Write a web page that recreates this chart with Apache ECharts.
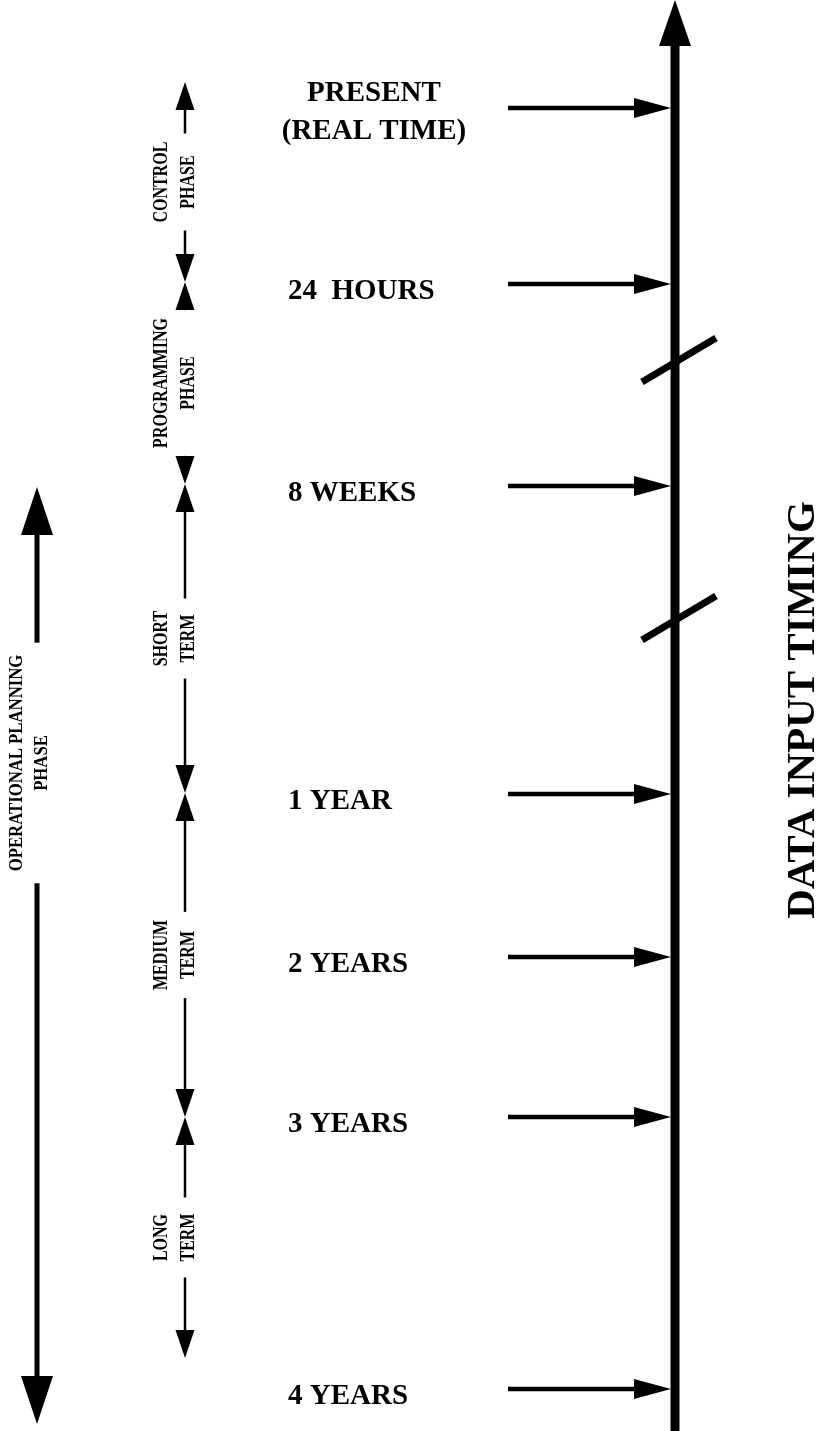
<!DOCTYPE html>
<html><head><meta charset="utf-8">
<script src="https://cdn.jsdelivr.net/npm/echarts@6/dist/echarts.min.js"></script>
<style>html,body{margin:0;padding:0;background:#fff}#c{width:819px;height:1431px}</style>
</head><body><div id="c"></div>
<script>
// ---- data (vertical timeline positions, in diagram units) ----
const milestoneLabels = ['PRESENT\n(REAL TIME)', '24  HOURS', '8 WEEKS', '1 YEAR', '2 YEARS', '3 YEARS', '4 YEARS'];
const milestonePos = [108, 284, 486, 794, 957, 1117, 1389];
const phaseNames = ['CONTROL\nPHASE', 'PROGRAMMING\nPHASE', 'SHORT\nTERM', 'MEDIUM\nTERM', 'LONG\nTERM'];
const phaseStart = [82, 282, 484, 793, 1117];
const phaseEnd = [282, 484, 793, 1117, 1358];
const breakPos = [360, 618];
const overallNames = ['OPERATIONAL PLANNING\nPHASE'];
const overallStart = [487];
const overallEnd = [1424];
const axisTitle = 'DATA INPUT TIMING';
const axisRange = [1431, 0];

// ---- layout / style ----
const FONT = '"Liberation Serif", "Times New Roman", serif';
const BLACK = '#000';
const measureCtx = document.createElement('canvas').getContext('2d');
function textWidth(txt, font) {
  measureCtx.font = font;
  return Math.max.apply(null, txt.split('\n').map(s => measureCtx.measureText(s).width));
}

const chart = echarts.init(document.getElementById('c'), null, {renderer: 'canvas'});
function P(api, x, y) { return api.coord([x, y]); }

function doubleArrow(api, opt) {
  const {x, s, e, hw, hl, lw, font, sx, label, lineHeight, tx, mid, minGap, pad} = opt;
  const gap = Math.max(textWidth(label, font) * sx / 2 + pad, minGap);
  const l1a = P(api, x, s + hl), l1b = P(api, x, mid - gap);
  const l2a = P(api, x, mid + gap), l2b = P(api, x, e - hl);
  const tp = P(api, tx, mid);
  const children = [
    {type: 'polygon', shape: {points: [P(api, x, s), P(api, x - hw, s + hl), P(api, x + hw, s + hl)]}, style: {fill: BLACK}},
    {type: 'polygon', shape: {points: [P(api, x, e), P(api, x - hw, e - hl), P(api, x + hw, e - hl)]}, style: {fill: BLACK}},
    {type: 'text', x: tp[0], y: tp[1], rotation: Math.PI / 2, scaleX: sx, scaleY: 1,
      style: {text: label, fill: BLACK, font: font, lineHeight: lineHeight, align: 'center', verticalAlign: 'middle'}}
  ];
  if (l1b[1] > l1a[1]) children.push({type: 'line', shape: {x1: l1a[0], y1: l1a[1], x2: l1b[0], y2: l1b[1]}, style: {stroke: BLACK, lineWidth: lw}});
  if (l2b[1] > l2a[1]) children.push({type: 'line', shape: {x1: l2a[0], y1: l2a[1], x2: l2b[0], y2: l2b[1]}, style: {stroke: BLACK, lineWidth: lw}});
  return {type: 'group', children};
}

const option = {
  animation: false,
  backgroundColor: '#fff',
  grid: {left: 0, right: 0, top: 0, bottom: 0},
  xAxis: {type: 'value', min: 0, max: 819, show: false},
  yAxis: {type: 'value', min: 0, max: 1431, inverse: true, show: false},
  series: [
    // main time axis
    {
      type: 'custom', silent: true,
      data: [axisRange],
      renderItem(params, api) {
        const yb = api.value(0), yt = api.value(1);
        const ax = 675;
        const a = P(api, ax, yb), b = P(api, ax, yt + 44);
        return {type: 'group', children: [
          {type: 'line', shape: {x1: a[0], y1: a[1], x2: b[0], y2: b[1]}, style: {stroke: BLACK, lineWidth: 9}},
          {type: 'polygon', shape: {points: [P(api, ax, yt), P(api, ax - 16, yt + 46), P(api, ax + 16, yt + 46)]}, style: {fill: BLACK}}
        ]};
      }
    },
    // milestone arrows + labels
    {
      type: 'custom', silent: true,
      data: milestonePos.map((v, i) => [i, v]),
      renderItem(params, api) {
        const i = api.value(0), y = api.value(1);
        const label = milestoneLabels[i];
        const multi = label.indexOf('\n') >= 0;
        const s = P(api, 508, y), hb = P(api, 638, y);
        const t = multi ? P(api, 374, y + 5) : P(api, 288, y + 8);
        return {type: 'group', children: [
          {type: 'line', shape: {x1: s[0], y1: s[1], x2: hb[0], y2: hb[1]}, style: {stroke: BLACK, lineWidth: 4.5}},
          {type: 'polygon', shape: {points: [P(api, 671, y), P(api, 634, y - 10), P(api, 634, y + 10)]}, style: {fill: BLACK}},
          {type: 'text', x: t[0], y: t[1], style: {text: label, fill: BLACK, font: 'bold 29px ' + FONT, lineHeight: 38,
            align: multi ? 'center' : 'left', verticalAlign: 'middle'}}
        ]};
      }
    },
    // phase double-arrows
    {
      type: 'custom', silent: true,
      data: phaseStart.map((v, i) => [i, v, phaseEnd[i]]),
      renderItem(params, api) {
        const i = api.value(0), s = api.value(1), e = api.value(2);
        return doubleArrow(api, {x: 185, s, e, hw: 9.5, hl: 28, lw: 2.5, font: 'bold 20px ' + FONT, sx: 0.8,
          label: phaseNames[i], lineHeight: 27, tx: 175, mid: (s + e) / 2, minGap: 40, pad: 8});
      }
    },
    // overall operational planning arrow
    {
      type: 'custom', silent: true,
      data: overallStart.map((v, i) => [i, v, overallEnd[i]]),
      renderItem(params, api) {
        const i = api.value(0), s = api.value(1), e = api.value(2);
        return doubleArrow(api, {x: 37, s, e, hw: 16, hl: 48, lw: 5, font: 'bold 19px ' + FONT, sx: 0.88,
          label: overallNames[i], lineHeight: 25, tx: 30, mid: s + 276, minGap: 40, pad: 12});
      }
    },
    // axis break marks
    {
      type: 'custom', silent: true,
      data: breakPos.map(v => [v]),
      renderItem(params, api) {
        const y = api.value(0);
        const a = P(api, 642, y + 22), b = P(api, 716, y - 22);
        return {type: 'line', shape: {x1: a[0], y1: a[1], x2: b[0], y2: b[1]}, style: {stroke: BLACK, lineWidth: 7}};
      }
    },
    // axis title
    {
      type: 'custom', silent: true,
      data: [[710]],
      renderItem(params, api) {
        const p = P(api, 803, api.value(0));
        return {type: 'text', x: p[0], y: p[1], rotation: Math.PI / 2,
          style: {text: axisTitle, fill: BLACK, font: 'bold 41px ' + FONT, align: 'center', verticalAlign: 'middle'}};
      }
    }
  ]
};
chart.setOption(option);
</script>
</body></html>
